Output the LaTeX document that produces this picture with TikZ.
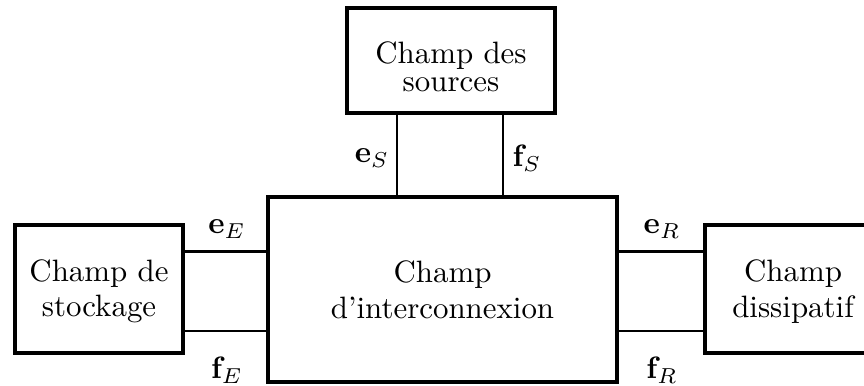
\documentclass[tikz,border=0pt]{standalone}
\usetikzlibrary{calc}
\newcommand\pxu{0.3236pt}
\begin{document}
\begin{tikzpicture}[x=0.3236pt,y=-0.3236pt,
  box/.style={draw, line width=1.3pt, rectangle, inner sep=0pt, align=center},
  wire/.style={line width=0.85pt},
  lbl/.style={inner sep=0pt}]
\useasboundingbox (0,0) rectangle (864,385);
\clip (0,0) rectangle (864,385);
% boxes
\node[box, minimum width=208*\pxu, minimum height=105*\pxu,
  font=\fontsize{10}{9.2}\selectfont] (T) at (451,60.5) {\rule{0pt}{11pt}Champ des\\sources};
\node[box, minimum width=349*\pxu, minimum height=185*\pxu,
  font=\fontsize{10}{11.6}\selectfont] (M) at (442.5,289.5) {Champ\\d'interconnexion};
\node[box, minimum width=168*\pxu, minimum height=128*\pxu,
  font=\fontsize{10}{11.2}\selectfont] (L) at (99,289) {\rule{0pt}{8.5pt}Champ de\\stockage};
\node[box, minimum width=176*\pxu, minimum height=128*\pxu,
  font=\fontsize{10}{11.6}\selectfont] (R) at (793,289) {\rule{0pt}{8.5pt}Champ\\dissipatif};
% connectors
\draw[wire] ([yshift=12.2pt]L.east) -- ([yshift=12.2pt]L.east -| M.west);
\draw[wire] ([yshift=-13.6pt]L.east) -- ([yshift=-13.6pt]L.east -| M.west);
\draw[wire] ([yshift=12.2pt]R.west) -- ([yshift=12.2pt]R.west -| M.east);
\draw[wire] ([yshift=-13.6pt]R.west) -- ([yshift=-13.6pt]R.west -| M.east);
\draw[wire] ([xshift=-17.5pt]T.south) -- ([xshift=-17.5pt]T.south |- M.north);
\draw[wire] ([xshift=16.8pt]T.south) -- ([xshift=16.8pt]T.south |- M.north);
% labels
\node[lbl] (eS) at (372,158) {$\mathbf{e}_S$};
\node[lbl] (fS) at (527,158) {$\mathbf{f}_S$};
\node[lbl] (eE) at (227,229) {$\mathbf{e}_E$};
\node[lbl] (fE) at (227,370) {$\mathbf{f}_E$};
\node[lbl] (eR) at (662,229) {$\mathbf{e}_R$};
\node[lbl] (fR) at (662,370) {$\mathbf{f}_R$};
\end{tikzpicture}
\end{document}
